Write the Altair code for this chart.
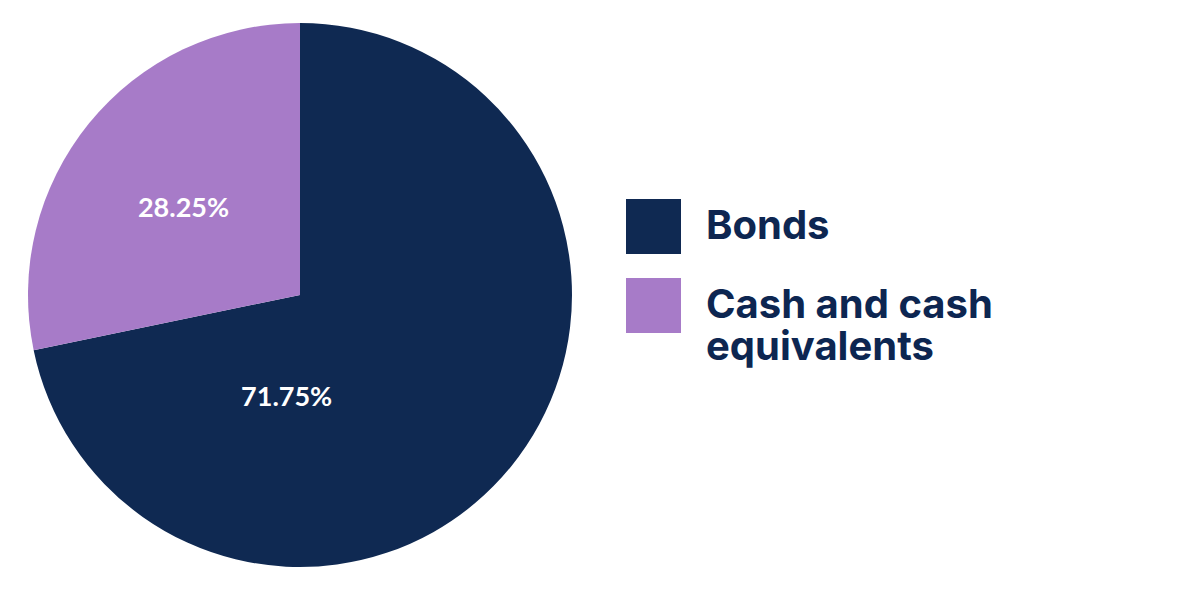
import altair as alt
import pandas as pd

categories = ["Bonds", "Cash and cash equivalents"]
values = [71.75, 28.25]
labels = ["71.75%", "28.25%"]
colors = ["#0f2952", "#a77bc8"]

df = pd.DataFrame({"category": categories, "value": values, "label": labels,
                   "order": [0, 1]})

pie = alt.Chart(df).mark_arc(outerRadius=272, x=292, y=287).encode(
    theta=alt.Theta("value:Q", stack=True),
    order=alt.Order("order:Q"),
    color=alt.Color(
        "category:N",
        scale=alt.Scale(domain=categories, range=colors),
        legend=alt.Legend(
            title=None,
            orient="none",
            legendX=618,
            legendY=191,
            padding=0,
            symbolType="square",
            symbolSize=3025,
            symbolStrokeWidth=0,
            symbolOpacity=1,
            labelFont="Inter",
            labelFontSize=40,
            labelFontWeight="bold",
            labelColor="#0d2651",
            labelOffset=25,
            labelLimit=500,
            rowPadding=24,
            labelExpr="datum.label == 'Cash and cash equivalents' ? ['Cash and cash', 'equivalents'] : datum.label",
        ),
    ),
)

txt_style = dict(font="Lato", fontSize=27, fontWeight="bold", color="white",
                 x=292, y=287, align="center", baseline="middle")

text_base = alt.Chart(df).transform_window(
    cum="sum(value)", sort=[alt.SortField("order")],
    frame=[None, 0]
).transform_calculate(
    mid="datum.cum - datum.value / 2"
).encode(
    theta=alt.Theta("mid:Q", stack=None,
                    scale=alt.Scale(domain=[0, 100])),
    text="label:N",
)

cash_text = text_base.mark_text(radius=145, dx=-4, dy=6, **txt_style).transform_filter(
    "datum.category == 'Cash and cash equivalents'")

bond_text = text_base.mark_text(radius=104, dx=-94, dy=37, **txt_style).transform_filter(
    "datum.category == 'Bonds'")

chart = alt.layer(pie, cash_text, bond_text).properties(
    width=1162, height=573, padding=0, autosize="none"
).resolve_scale(theta="independent").configure_view(stroke=None)

chart.save("out.html", embed_options={"renderer": "svg", "actions": False})
